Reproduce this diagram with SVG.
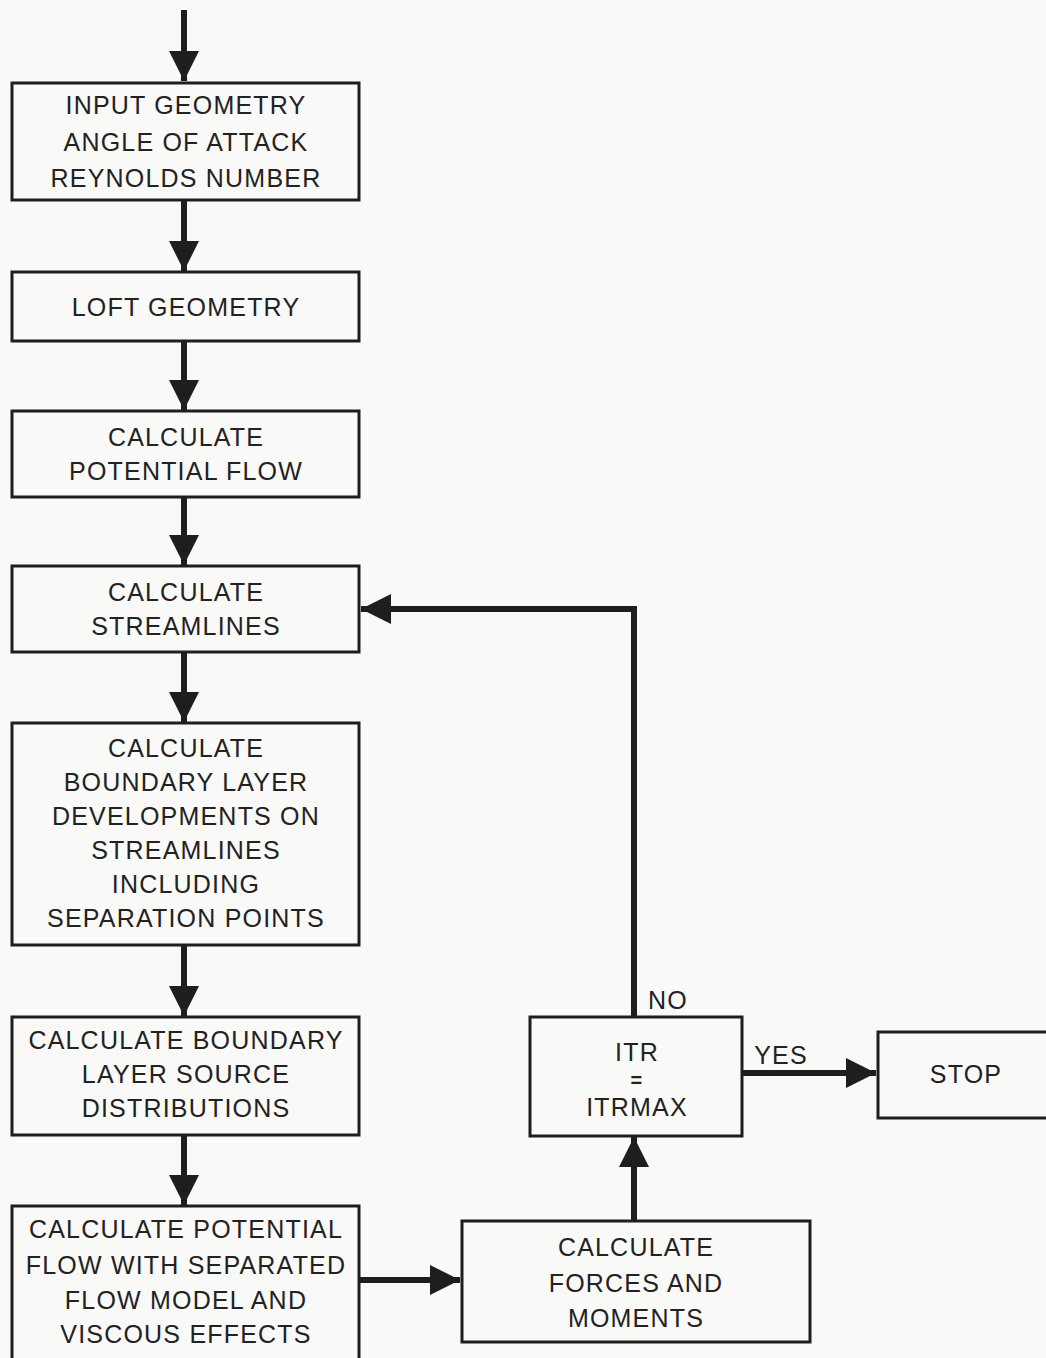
<svg xmlns="http://www.w3.org/2000/svg" width="1046" height="1358" viewBox="0 0 1046 1358">
<defs>
<style>
.box{fill:none;stroke:#1e1e1e;stroke-width:3}
.t{font-family:"Liberation Sans",Arial,sans-serif;font-size:25px;fill:#222;text-anchor:middle;letter-spacing:1.2px}
.ln{stroke:#1e1e1e;stroke-width:6;fill:none}
</style>
<marker id="ah" viewBox="0 0 10 10" refX="10" refY="5" markerWidth="5" markerHeight="5" markerUnits="strokeWidth" orient="auto">
<path d="M0,0 L10,5 L0,10 Z" fill="#1e1e1e"/>
</marker>
</defs>
<rect width="1046" height="1358" fill="#f9f9f7"/>
<g id="connectors">
<line class="ln" x1="184" y1="10" x2="184" y2="81" marker-end="url(#ah)"/>
<line class="ln" x1="184" y1="200" x2="184" y2="271" marker-end="url(#ah)"/>
<line class="ln" x1="184" y1="341" x2="184" y2="410" marker-end="url(#ah)"/>
<line class="ln" x1="184" y1="497" x2="184" y2="565" marker-end="url(#ah)"/>
<line class="ln" x1="184" y1="652" x2="184" y2="722" marker-end="url(#ah)"/>
<line class="ln" x1="184" y1="945" x2="184" y2="1016" marker-end="url(#ah)"/>
<line class="ln" x1="184" y1="1135" x2="184" y2="1205" marker-end="url(#ah)"/>
<line class="ln" x1="359" y1="1280" x2="460" y2="1280" marker-end="url(#ah)"/>
<line class="ln" x1="634" y1="1221" x2="634" y2="1137" marker-end="url(#ah)"/>
<line class="ln" x1="742" y1="1073" x2="876" y2="1073" marker-end="url(#ah)"/>
<polyline class="ln" points="634,1017 634,609 361,609" marker-end="url(#ah)"/>
<text class="t" x="668" y="1009">NO</text>
<text class="t" x="781" y="1064">YES</text>
</g>
<g id="n1"><rect class="box" x="12" y="83" width="347" height="117"/>
<text class="t" x="186" y="114">INPUT GEOMETRY</text>
<text class="t" x="186" y="151">ANGLE OF ATTACK</text>
<text class="t" x="186" y="187">REYNOLDS NUMBER</text></g>
<g id="n2"><rect class="box" x="12" y="272" width="347" height="69"/>
<text class="t" x="186" y="316">LOFT GEOMETRY</text></g>
<g id="n3"><rect class="box" x="12" y="411" width="347" height="86"/>
<text class="t" x="186" y="446">CALCULATE</text>
<text class="t" x="186" y="480">POTENTIAL FLOW</text></g>
<g id="n4"><rect class="box" x="12" y="566" width="347" height="86"/>
<text class="t" x="186" y="601">CALCULATE</text>
<text class="t" x="186" y="635">STREAMLINES</text></g>
<g id="n5"><rect class="box" x="12" y="723" width="347" height="222"/>
<text class="t" x="186" y="757">CALCULATE</text>
<text class="t" x="186" y="791">BOUNDARY LAYER</text>
<text class="t" x="186" y="825">DEVELOPMENTS ON</text>
<text class="t" x="186" y="859">STREAMLINES</text>
<text class="t" x="186" y="893">INCLUDING</text>
<text class="t" x="186" y="927">SEPARATION POINTS</text></g>
<g id="n6"><rect class="box" x="12" y="1017" width="347" height="118"/>
<text class="t" x="186" y="1049">CALCULATE BOUNDARY</text>
<text class="t" x="186" y="1083">LAYER SOURCE</text>
<text class="t" x="186" y="1117">DISTRIBUTIONS</text></g>
<g id="n7"><rect class="box" x="12" y="1206" width="347" height="160"/>
<text class="t" x="186" y="1238">CALCULATE POTENTIAL</text>
<text class="t" x="186" y="1274">FLOW WITH SEPARATED</text>
<text class="t" x="186" y="1309">FLOW MODEL AND</text>
<text class="t" x="186" y="1343">VISCOUS EFFECTS</text></g>
<g id="n8"><rect class="box" x="462" y="1221" width="348" height="121"/>
<text class="t" x="636" y="1256">CALCULATE</text>
<text class="t" x="636" y="1292">FORCES AND</text>
<text class="t" x="636" y="1327">MOMENTS</text></g>
<g id="n9"><rect class="box" x="530" y="1017" width="212" height="119"/>
<text class="t" x="637" y="1061">ITR</text>
<text class="t" x="637" y="1087" style="font-size:20px;font-weight:bold">=</text>
<text class="t" x="637" y="1116">ITRMAX</text></g>
<g id="n10"><rect class="box" x="878" y="1032" width="180" height="86"/>
<text class="t" x="966" y="1083">STOP</text></g>
</svg>
